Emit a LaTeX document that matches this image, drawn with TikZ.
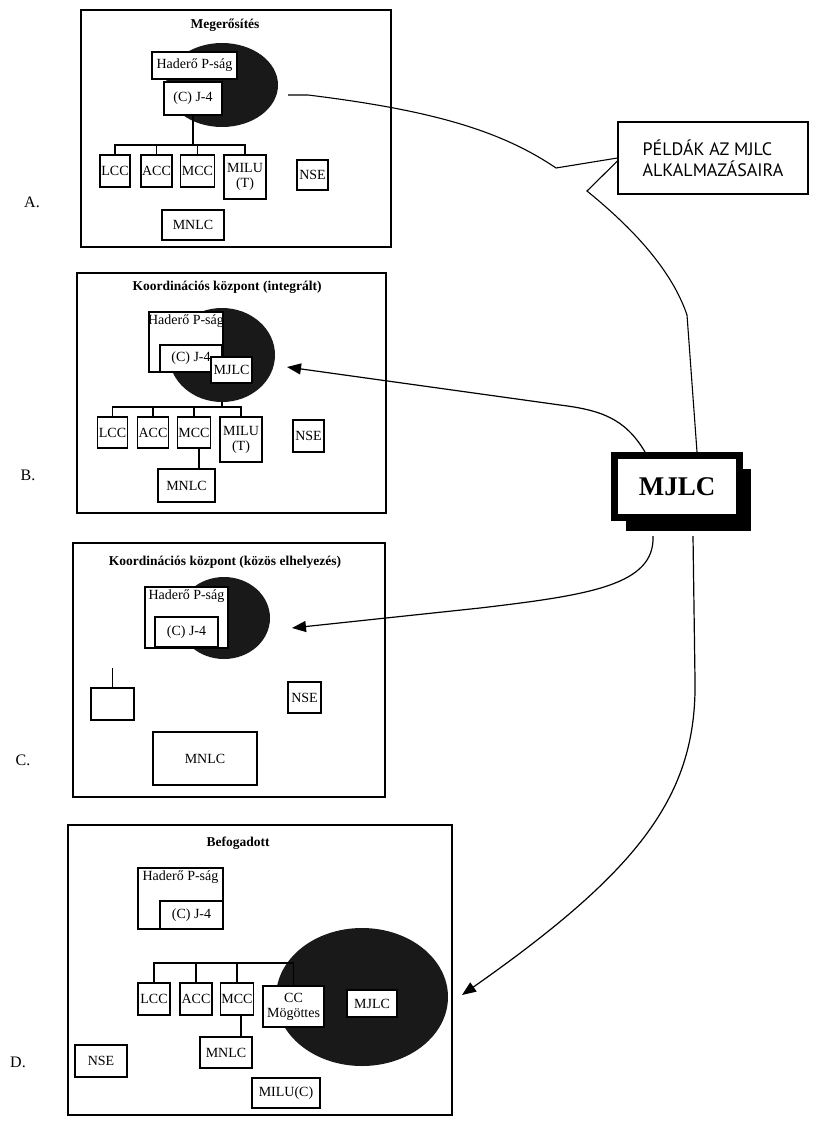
\documentclass[tikz,border=0pt]{standalone}
\usepackage{fontspec}
\setmainfont{Liberation Serif}
\newfontfamily\calloutfont{PT Sans}
\usetikzlibrary{shapes.geometric,arrows.meta,shadows,calc}
\definecolor{blobc}{gray}{0.1}
\newcommand\boxfont{\fontsize{14}{15}\selectfont}
\newcommand\titlefont{\fontsize{13.5}{15}\selectfont\bfseries}
\newcommand\labfont{\fontsize{16}{18}\selectfont}
\tikzset{
  panel/.style={draw, line width=1.3pt, inner sep=0pt},
  bx/.style={draw, fill=white, line width=1.1pt, inner sep=1pt, font=\boxfont, align=center},
  blob/.style={ellipse, fill=blobc, draw=none, inner sep=0pt},
  conn/.style={line width=1.1pt},
  arr/.style={line width=1.2pt, -{Triangle[length=14pt,width=11pt]}},
  ttl/.style={font=\titlefont},
  lbl/.style={font=\labfont},
  intop/.style={anchor=north, inner sep=3pt, font=\boxfont}
}
\begin{document}
\begin{tikzpicture}[x=1pt,y=-1pt]
\useasboundingbox (0,0) rectangle (812,1121);

% ---------------- Panel A ----------------
\node[panel, minimum width=310pt, minimum height=237pt] (pA) at (236,128.5) {};
\node[ttl] (tA) at (225,25) {Megerősítés};
\node[blob, minimum width=112pt, minimum height=84pt] (ellA) at (222,85) {};
\coordinate (busA) at (0,145);
\node[bx, minimum width=85pt, minimum height=27pt] (hadA) at (194.5,65.5) {Haderő P-ság};
\node[bx, minimum width=58pt, minimum height=33pt] (j4A) at (193,98.5) {(C) J-4};
\node[bx, minimum width=30pt, minimum height=32pt] (lccA) at (115,171) {LCC};
\node[bx, minimum width=31pt, minimum height=32pt] (accA) at (156.5,171) {ACC};
\node[bx, minimum width=31pt, minimum height=32pt] (mccA) at (197.5,171) {MCC};
\node[bx, minimum width=42pt, minimum height=44pt] (miluA) at (245,177) {MILU\\(T)};
\node[bx, minimum width=31pt, minimum height=30pt] (nseA) at (312.5,175) {NSE};
\node[bx, minimum width=62pt, minimum height=30pt] (mnlcA) at (193,225) {MNLC};
\draw[conn] (j4A.south) -- (j4A.south |- busA);
\draw[conn] (lccA.north) |- (miluA.north |- busA) -- (miluA.north);
\draw[conn] (accA.north) -- (accA.north |- busA);
\draw[conn] (mccA.north) -- (mccA.north |- busA);
\node[lbl] (labA) at (32,202) {A.};

% ---------------- Panel B ----------------
\node[panel, minimum width=309pt, minimum height=240pt] (pB) at (231.5,393) {};
\node[ttl] (tB) at (227,287) {Koordinációs központ (integrált)};
\node[blob, minimum width=106pt, minimum height=94pt] (ellB) at (222,355) {};
\coordinate (busB) at (0,407);
\draw[conn] (ellB.south) -- (ellB.south |- busB);
\node[bx, minimum width=74pt, minimum height=60pt, label={[intop]north:Haderő P-ság}] (hadB) at (186,342) {};
\node[bx, minimum width=62pt, minimum height=27pt] (j4B) at (191,358.5) {(C) J-4};
\node[bx, minimum width=41pt, minimum height=26pt] (mjlcB) at (231.5,370) {MJLC};
\node[bx, minimum width=29pt, minimum height=31pt] (lccB) at (112.5,432.5) {LCC};
\node[bx, minimum width=30pt, minimum height=31pt] (accB) at (153,432.5) {ACC};
\node[bx, minimum width=32pt, minimum height=31pt] (mccB) at (194,432.5) {MCC};
\node[bx, minimum width=42pt, minimum height=45pt] (miluB) at (241,439.5) {MILU\\(T)};
\node[bx, minimum width=31pt, minimum height=32pt] (nseB) at (308.5,436) {NSE};
\node[bx, minimum width=57pt, minimum height=33pt] (mnlcB) at (186.5,485.5) {MNLC};
\draw[conn] (lccB.north) |- (miluB.north |- busB) -- (miluB.north);
\draw[conn] (accB.north) -- (accB.north |- busB);
\draw[conn] (mccB.north) -- (mccB.north |- busB);
\draw[conn] ([xshift=5pt]mccB.south) -- ([xshift=5pt]mccB.south |- mnlcB.north);
\node[lbl] (labB) at (28,475) {B.};

% ---------------- Panel C ----------------
\node[panel, minimum width=312pt, minimum height=254pt] (pC) at (229,670) {};
\node[ttl] (tC) at (225,562) {Koordinációs központ (közös elhelyezés)};
\node[blob, minimum width=92pt, minimum height=82pt] (ellC) at (224,618) {};
\node[bx, minimum width=83pt, minimum height=61pt, label={[intop]north:Haderő P-ság}] (hadC) at (186.5,617.5) {};
\node[bx, minimum width=63pt, minimum height=30pt] (j4C) at (186.5,632) {(C) J-4};
\node[bx, minimum width=43pt, minimum height=32pt] (emptyC) at (112.5,704) {};
\coordinate (stubC) at (112.5,668);
\draw[conn] (stubC) -- (emptyC.north);
\node[bx, minimum width=33pt, minimum height=31pt] (nseC) at (304.5,697.5) {NSE};
\node[bx, minimum width=104pt, minimum height=53pt] (mnlcC) at (205,758.5) {MNLC};
\node[lbl] (labC) at (23,760) {C.};

% ---------------- Panel D ----------------
\node[panel, minimum width=384pt, minimum height=290pt] (pD) at (260,970) {};
\node[ttl] (tD) at (238,843) {Befogadott};
\node[blob, minimum width=172pt, minimum height=138pt] (ellD) at (362,997) {};
\coordinate (busD) at (0,963);
\node[bx, minimum width=85pt, minimum height=61pt, label={[intop]north:Haderő P-ság}] (hadD) at (180.5,898.5) {};
\node[bx, minimum width=63pt, minimum height=28pt] (j4D) at (191.5,915) {(C) J-4};
\node[bx, minimum width=32pt, minimum height=32pt] (lccD) at (154,999) {LCC};
\node[bx, minimum width=32pt, minimum height=32pt] (accD) at (196,999) {ACC};
\node[bx, minimum width=32pt, minimum height=32pt] (mccD) at (237,999) {MCC};
\node[bx, minimum width=61pt, minimum height=41pt] (ccD) at (293.5,1006.5) {CC\\Mögöttes};
\node[bx, minimum width=50pt, minimum height=27pt] (mjlcD) at (372,1003.5) {MJLC};
\node[bx, minimum width=52pt, minimum height=31pt] (mnlcD) at (226,1052.5) {MNLC};
\node[bx, minimum width=52pt, minimum height=32pt] (nseD) at (101,1061) {NSE};
\node[bx, minimum width=68pt, minimum height=30pt] (miluD) at (286,1093) {MILU(C)};
\draw[conn] (lccD.north) |- (ccD.north |- busD) -- (ccD.north);
\draw[conn] (accD.north) -- (accD.north |- busD);
\draw[conn] (mccD.north) -- (mccD.north |- busD);
\draw[conn] ([xshift=4pt]mccD.south) -- ([xshift=4pt]mccD.south |- mnlcD.north);
\node[lbl] (labD) at (18,1062) {D.};

% ---------------- Right side ----------------
\node[draw, line width=1.1pt, minimum width=190pt, minimum height=72pt, align=left,
      font={\calloutfont\fontsize{18}{21}\selectfont}] (callout) at (713,158)
      {PÉLDÁK AZ MJLC\\ALKALMAZÁSAIRA};
\node[draw, fill=white, line width=7pt, minimum width=125pt, minimum height=62pt,
      font={\fontsize{27}{30}\selectfont\bfseries},
      drop shadow={shadow xshift=11pt, shadow yshift=-13pt, fill=black, opacity=1}]
      (mjlc) at (677,486.5) {MJLC};

\coordinate (startA) at (288,95);
\draw[conn] (startA) -- (308,95) .. controls (430,110) and (500,130) .. (556,168) -- (callout.west);
\draw[conn] ([yshift=-3pt]callout.west) -- (587,191) .. controls (625,222) and (670,265) .. (687,315) -- ([xshift=20pt]mjlc.north);

\coordinate (tipB) at (287,367);
\coordinate (tipC) at (292,628);
\coordinate (tipD) at (462,995);
\draw[arr] ([xshift=-32pt]mjlc.north) .. controls (625,418) and (600,410) .. (560,405) -- (tipB);
\draw[arr] ([xshift=-24pt,yshift=-15pt]mjlc.south) .. controls (655,585) and (590,595) .. (480,608) -- (tipC);
\draw[arr] ([xshift=16pt,yshift=-15pt]mjlc.south) -- (695,680) .. controls (697,795) and (640,870) .. (tipD);
\end{tikzpicture}
\end{document}
